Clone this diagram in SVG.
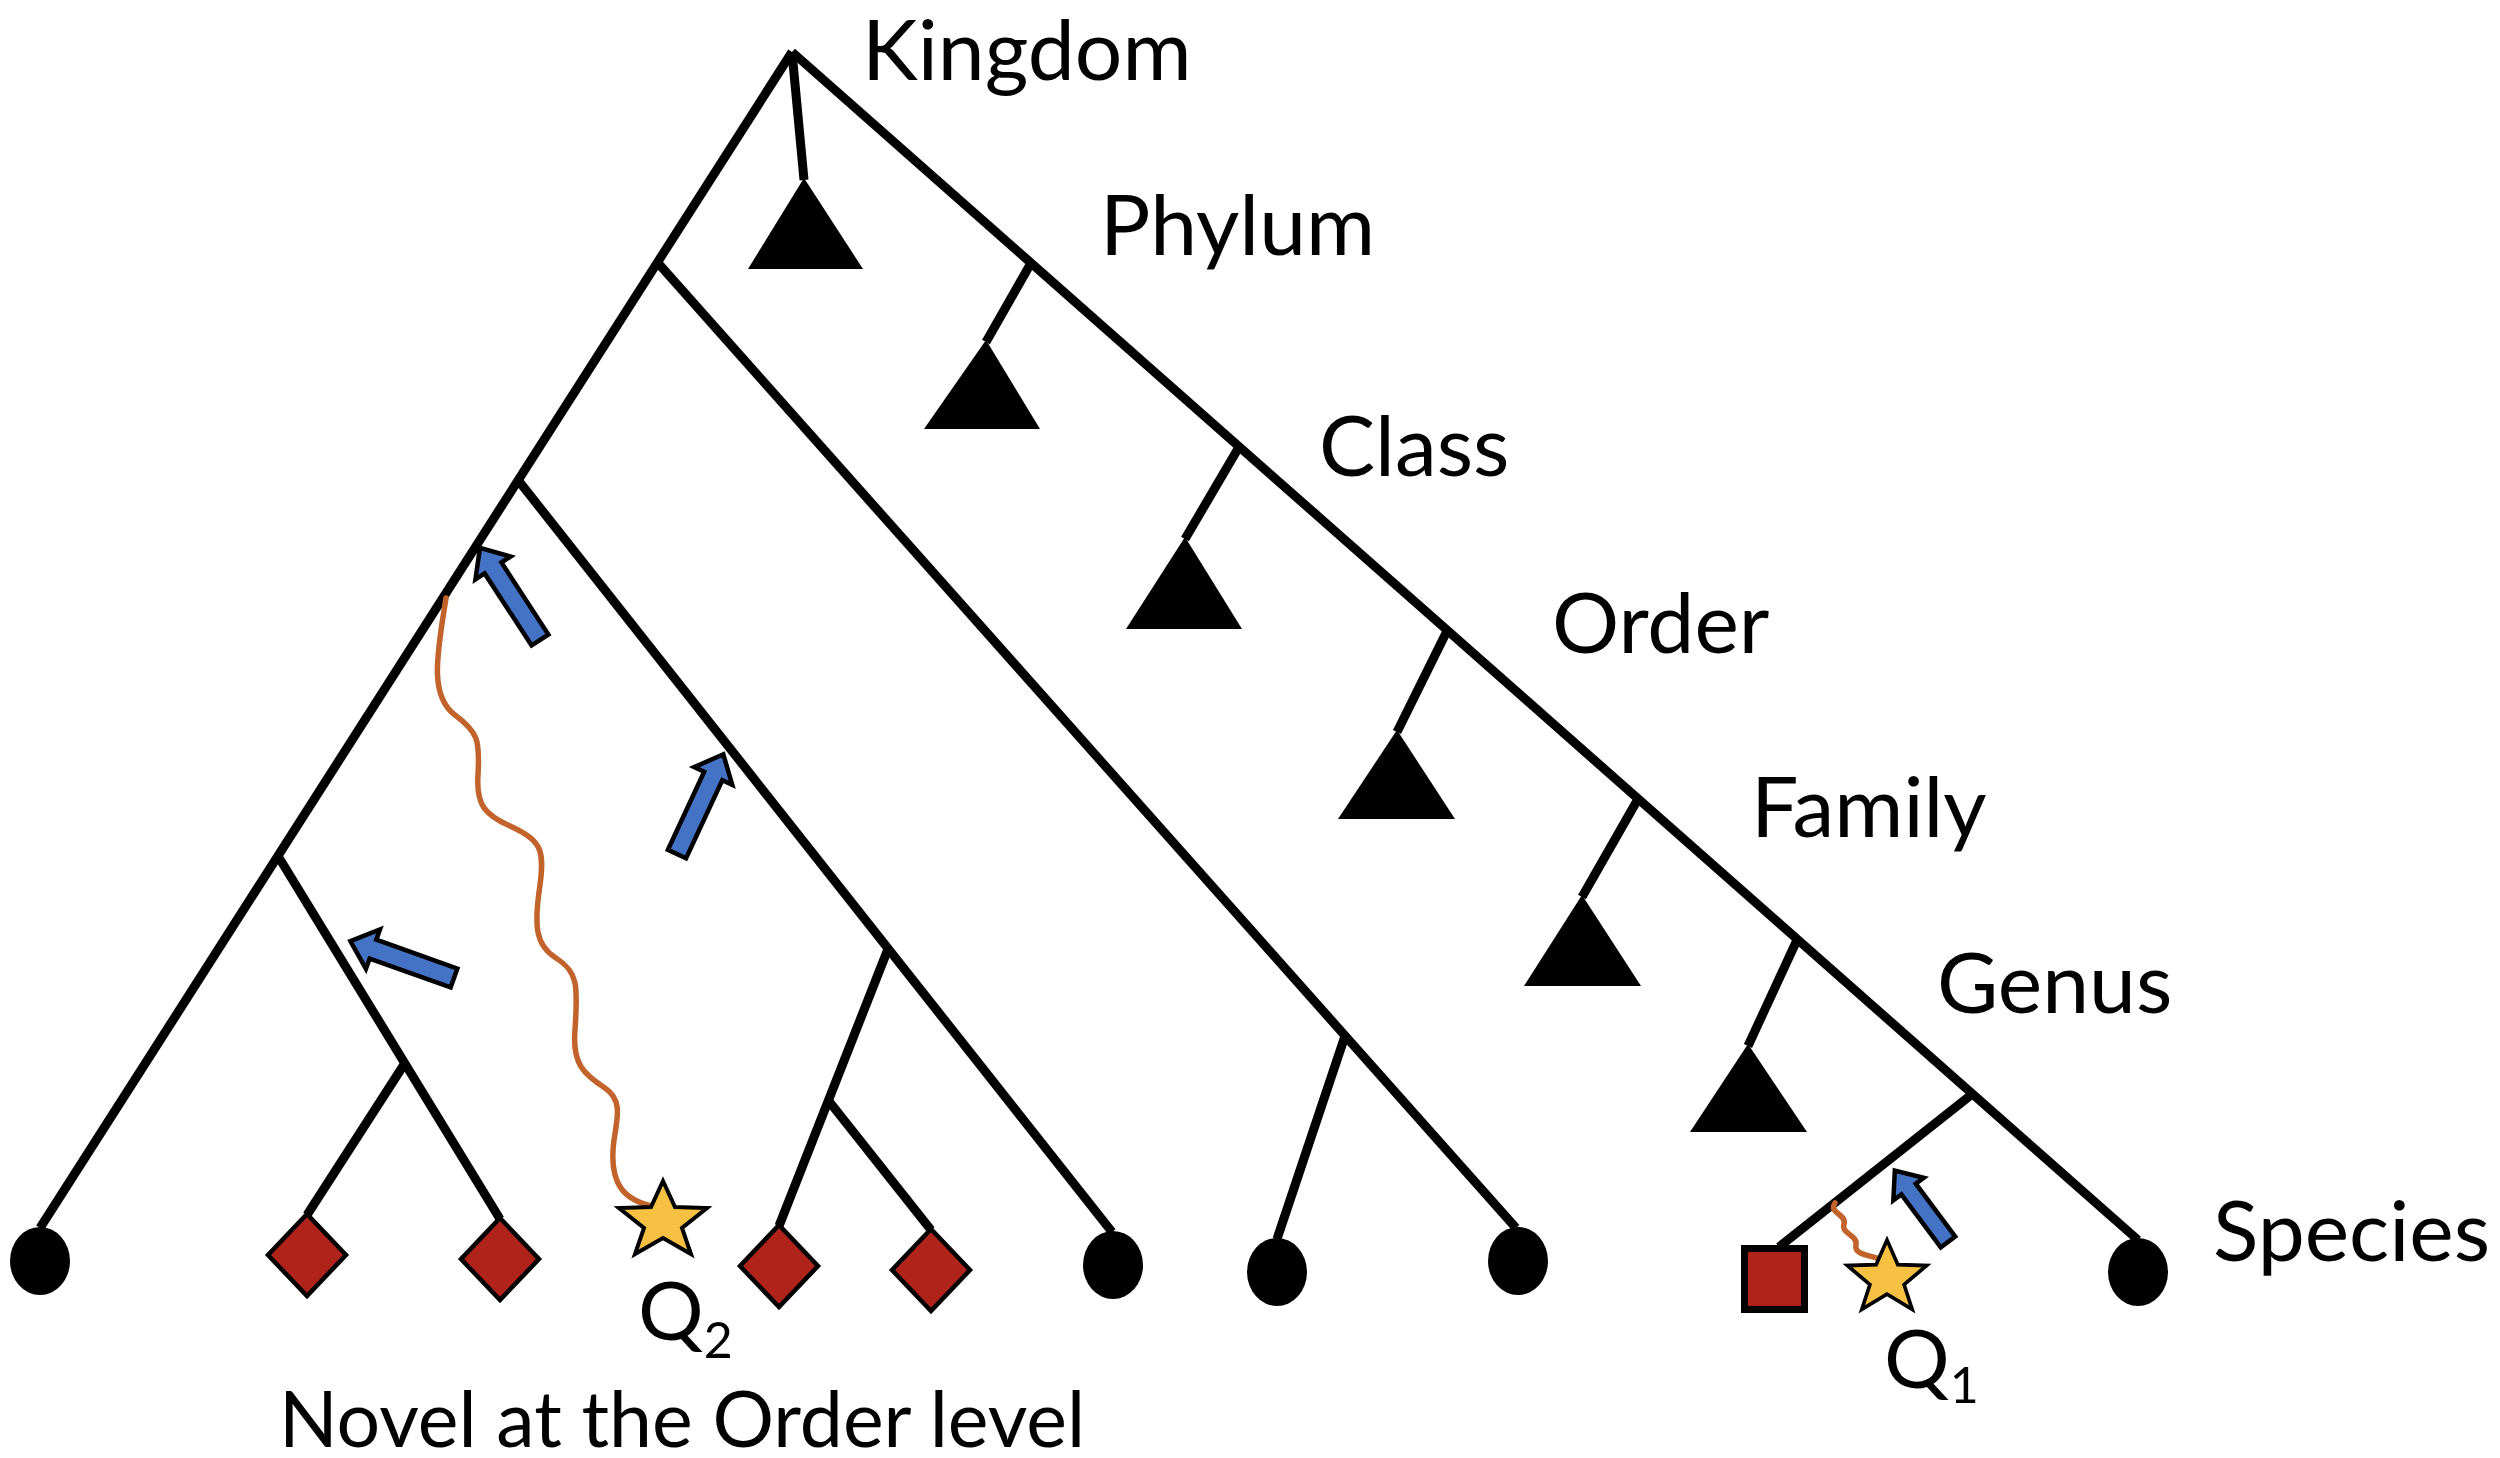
<svg xmlns="http://www.w3.org/2000/svg" xmlns:xlink="http://www.w3.org/1999/xlink" width="2500" height="1458" viewBox="0 0 2500 1458">
<style>
.br{stroke:#000;stroke-width:9;fill:none;stroke-linecap:butt}
.tri{fill:#000}
.leaf{fill:#000}
.dia{fill:#B0231A;stroke:#000;stroke-width:4.5;stroke-linejoin:miter}
.sq{fill:#B0231A;stroke:#000;stroke-width:7}
.star{fill:#F6C143;stroke:#000;stroke-width:4;stroke-linejoin:miter}
.arr{fill:#4472C4;stroke:#000;stroke-width:4.5;stroke-linejoin:miter}
.wave{fill:none;stroke:#C2632B;stroke-width:5.5;stroke-linecap:round}
.lbl{font-family:Lato,"Open Sans","Liberation Sans",sans-serif;font-size:84px;fill:#000}
.q{font-family:Lato,"Open Sans","Liberation Sans",sans-serif;font-size:82px;fill:#000}
.sub{font-size:50px}
</style>
<defs>
<path id="starShape" d="M0,-39 L12,-13 L44,-12 L19,8 L28,34 L0,18 L-28,34 L-19,8 L-44,-12 L-12,-13 Z"/>
<path id="arrowL" d="M0,-10 H86 V-21 L110,0 L86,21 V10 H0 Z"/>
<path id="arrowS" d="M0,-9 H66 V-19 L89,0 L66,19 V9 H0 Z"/>
</defs>
<rect x="0" y="0" width="2500" height="1458" fill="#fff"/>

<g id="connectors">
<path class="br" d="M792,52 L2138,1240"/>
<path class="br" d="M792,52 L40,1228"/>
<path class="br" d="M792,52 L804,180"/>
<path class="br" d="M1031,263 L986,342"/>
<path class="br" d="M1239,447 L1185,539"/>
<path class="br" d="M1447,631 L1397,732"/>
<path class="br" d="M1638,799 L1582,897"/>
<path class="br" d="M1797,940 L1748,1046"/>
<path class="br" d="M1971,1095 L1779,1247"/>
<path class="br" d="M658,263 L1516,1228"/>
<path class="br" d="M1345,1036 L1277,1239"/>
<path class="br" d="M518,480 L1112,1232"/>
<path class="br" d="M888,949 L779,1226"/>
<path class="br" d="M828,1100 L931,1230"/>
<path class="br" d="M278,856 L500,1219"/>
<path class="br" d="M405,1063 L307,1215"/>
<path class="wave" d="M446,598 C438,650 428,695 455,715 C478,732 480,740 478,775 C476,805 485,815 510,826 C540,840 545,848 540,885 C534,925 535,945 556,958 C578,972 578,985 575,1030 C572,1065 585,1075 605,1088 C622,1100 618,1115 614,1140 C608,1185 625,1200 652,1206"/>
<path class="wave" d="M1835,1203 C1828,1213 1847,1214 1844,1224 C1841,1234 1858,1235 1856,1245 C1854,1255 1870,1255 1880,1259"/>
<use href="#arrowL" xlink:href="#arrowL" class="arr" transform="translate(540,640) rotate(-123.1)"/>
<use href="#arrowL" xlink:href="#arrowL" class="arr" transform="translate(677,854) rotate(-65.1)"/>
<use href="#arrowL" xlink:href="#arrowL" class="arr" transform="translate(454,978) rotate(-160.4)"/>
<use href="#arrowS" xlink:href="#arrowS" class="arr" transform="translate(1948,1242) rotate(-126.7)"/>
</g>

<g id="kingdom-clade"><polygon class="tri" points="804,178 748,269 863,269"/></g>
<g id="phylum-clade"><polygon class="tri" points="986,340 924,429 1040,429"/></g>
<g id="class-clade"><polygon class="tri" points="1185,537 1126,629 1242,629"/></g>
<g id="order-clade"><polygon class="tri" points="1397,730 1338,819 1455,819"/></g>
<g id="family-clade"><polygon class="tri" points="1582,895 1524,986 1641,986"/></g>
<g id="genus-clade"><polygon class="tri" points="1748,1044 1690,1132 1807,1132"/></g>

<g id="leaf-1"><ellipse class="leaf" cx="40" cy="1261" rx="30" ry="34"/></g>
<g id="leaf-2"><polygon class="dia" points="307,1214 346,1255 307,1296 268,1255"/></g>
<g id="leaf-3"><polygon class="dia" points="500,1218 539,1259 500,1300 461,1259"/></g>
<g id="query-q2"><use href="#starShape" xlink:href="#starShape" class="star" transform="translate(663,1220)"/></g>
<g id="leaf-4"><polygon class="dia" points="779,1225 818,1266 779,1307 740,1266"/></g>
<g id="leaf-5"><polygon class="dia" points="931,1229 970,1270 931,1311 892,1270"/></g>
<g id="leaf-6"><ellipse class="leaf" cx="1113" cy="1265" rx="30" ry="34"/></g>
<g id="leaf-7"><ellipse class="leaf" cx="1277" cy="1272" rx="30" ry="34"/></g>
<g id="leaf-8"><ellipse class="leaf" cx="1518" cy="1261" rx="30" ry="34"/></g>
<g id="leaf-9"><rect class="sq" x="1744.5" y="1248.5" width="60" height="61"/></g>
<g id="query-q1"><use href="#starShape" xlink:href="#starShape" class="star" transform="translate(1887,1277) scale(0.9,0.95)"/></g>
<g id="leaf-10"><ellipse class="leaf" cx="2138" cy="1272" rx="30" ry="34"/></g>

<g id="labels">
<text class="lbl" x="862" y="80">Kingdom</text>
<text class="lbl" x="1100" y="255">Phylum</text>
<text class="lbl" x="1319" y="476">Class</text>
<text class="lbl" x="1552" y="653">Order</text>
<text class="lbl" x="1751" y="837">Family</text>
<text class="lbl" x="1937" y="1013">Genus</text>
<text class="lbl" x="2213" y="1261">Species</text>
<text class="q" x="638" y="1340">Q<tspan class="sub" dy="18">2</tspan></text>
<text class="q" x="1884" y="1388">Q<tspan class="sub" dy="15">1</tspan></text>
<text class="lbl" style="font-size:77px" x="279" y="1447">Novel at the Order level</text>
</g>
</svg>
